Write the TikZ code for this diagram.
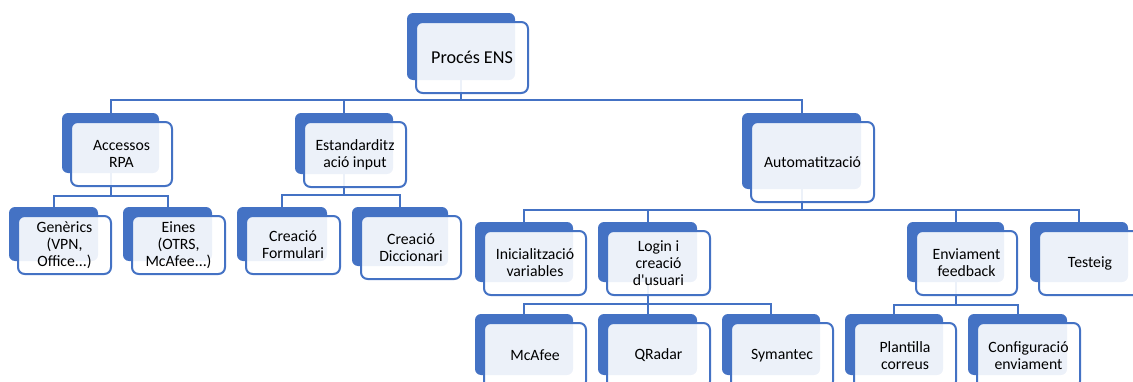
\documentclass[tikz,border=0pt]{standalone}
\usepackage{fontspec}
\newfontfamily\calfont{Carlito}
\definecolor{accblue}{HTML}{4472C4}
\pgfdeclarelayer{bg}
\pgfsetlayers{bg,main}
\tikzset{
  backbox/.style={fill=accblue, draw=none, rounded corners=4.5pt, inner sep=0pt, outer sep=0pt},
  frontbox/.style={draw=accblue, line width=1.5pt, fill=white, fill opacity=0.9, text opacity=1,
    rounded corners=5pt, inner sep=0pt, outer sep=0pt, align=center, text=black,
    font=\calfont\fontsize{11.8}{12.8}\selectfont},
  bigtext/.style={font=\calfont\fontsize{13.6}{15}\selectfont},
  conn/.style={draw=accblue, line width=1.5pt},
}
% \elem[opts]{name}{bx1}{by1}{bx2}{by2}  (text in \elemtext)
\newcommand\elem[6][]{%
  \node[backbox, minimum width={(#5-#3)*0.75pt}, minimum height={(#6-#4)*0.75pt}]
    (#2b) at ({(#3+#5)/2},{(#4+#6)/2}) {};
  \node[frontbox, #1, minimum width={(#5-#3+4)*0.75pt}, minimum height={(#6-#4+4)*0.75pt}]
    (#2) at ({(#3+#5)/2+11},{(#4+#6)/2+11}) {\elemtext};
}
\begin{document}
\begin{tikzpicture}[x=0.75pt, y=-0.75pt]
\useasboundingbox (0,0) rectangle (1133,382);
\clip (0,0) rectangle (1133,382);

\def\elemtext{Procés ENS}\elem[bigtext]{ens}{407}{13}{515}{80}
\def\elemtext{Accessos\\RPA}\elem{acc}{62}{113}{159}{173}
\def\elemtext{Genèrics\\(VPN,\\Office...)}\elem{gen}{9}{207}{98}{261}
\def\elemtext{Eines\\(OTRS,\\McAfee...)}\elem{ein}{123}{207}{212}{261}
\def\elemtext{Estandarditz\\ació input}\elem{est}{295}{113}{393}{174}
\def\elemtext{Creació\\Formulari}\elem{form}{237}{207}{327}{261}
\def\elemtext{Creació\\Diccionari}\elem{dic}{352}{207}{448}{266}
\def\elemtext{Automatització}\elem{aut}{742}{113}{861}{189}
\def\elemtext{Inicialització\\variables}\elem{ini}{475}{222}{573}{282}
\def\elemtext{Login i\\creació\\d'usuari}\elem{log}{598}{222}{697}{282}
\def\elemtext{Enviament\\feedback}\elem{env}{907}{222}{1004}{282}
\def\elemtext{Testeig}\elem{tes}{1030}{222}{1128}{282}
\def\elemtext{McAfee}\elem{mca}{475}{314}{573}{375}
\def\elemtext{QRadar}\elem{qra}{598}{314}{697}{375}
\def\elemtext{Symantec}\elem{sym}{722}{314}{820}{375}
\def\elemtext{Plantilla\\correus}\elem{pla}{845}{314}{943}{375}
\def\elemtext{Configuració\\enviament}\elem{con}{968}{314}{1067}{375}

\coordinate (bus0) at (0,100);
\coordinate (bus1) at (0,196);
\coordinate (bus2) at (0,195);
\coordinate (bus3) at (0,210);
\coordinate (bus4) at (0,304);
\coordinate (bus5) at (0,305);

\begin{pgfonlayer}{bg}
\foreach \c in {acc,est,aut}
  \draw[conn] (ensb.south) -- (ensb.south |- bus0) -| (\c b.north);
\foreach \c in {gen,ein}
  \draw[conn] (accb.south) -- (accb.south |- bus1) -| (\c b.north);
\foreach \c in {form,dic}
  \draw[conn] (estb.south) -- (estb.south |- bus2) -| (\c b.north);
\foreach \c in {ini,log,env,tes}
  \draw[conn] (autb.south) -- (autb.south |- bus3) -| (\c b.north);
\foreach \c in {mca,qra,sym}
  \draw[conn] (logb.south) -- (logb.south |- bus4) -| (\c b.north);
\foreach \c in {pla,con}
  \draw[conn] (envb.south) -- (envb.south |- bus5) -| (\c b.north);
\end{pgfonlayer}
\end{tikzpicture}
\end{document}
